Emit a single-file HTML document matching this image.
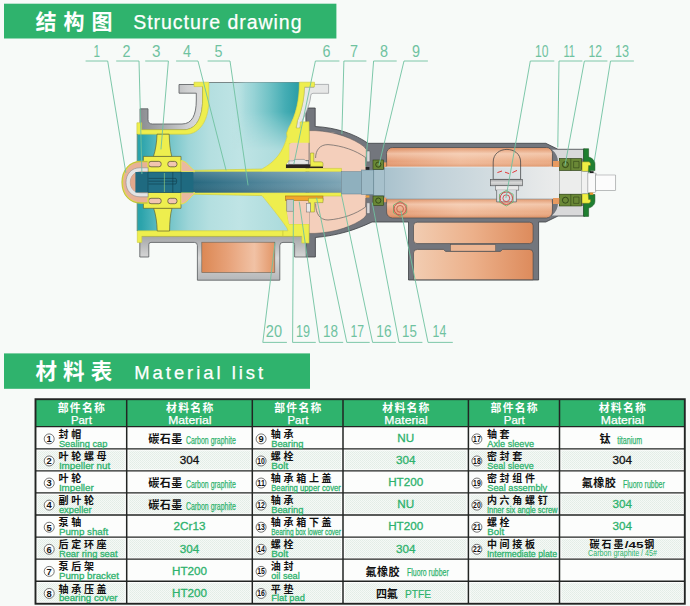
<!DOCTYPE html>
<html lang="zh"><head><meta charset="utf-8"><title>Structure drawing / Material list</title>
<style>
html,body{margin:0;padding:0;background:#f7faf8;}
body{width:690px;height:606px;position:relative;overflow:hidden;font-family:"Liberation Sans",sans-serif;}
svg.main{position:absolute;left:0;top:0;}
svg text{font-family:"Liberation Sans","Noto Sans CJK SC",sans-serif;}
.t{position:absolute;white-space:nowrap;line-height:1.15;}
.c{display:inline-block;transform:scaleX(0.7);transform-origin:left center;}
.c2{display:inline-block;transform:scaleX(0.78);transform-origin:center center;letter-spacing:-0.2px;}
</style></head><body>
<svg class="main" width="690" height="606" viewBox="0 0 690 606" role="img" aria-label="结构图 Structure drawing; 材料表 Material list">
<defs>
<pattern id="dots" width="2" height="2" patternUnits="userSpaceOnUse"><rect width="2" height="2" fill="#f5f9f6"/><rect x="0" y="0" width="1" height="1" fill="#e2ede6"/><rect x="1" y="1" width="1" height="1" fill="#e6efe9"/></pattern>
</defs>
<defs>
  <linearGradient id="cy" x1="141" y1="0" x2="300" y2="0" gradientUnits="userSpaceOnUse">
    <stop offset="0" stop-color="#2ba3ab"/>
    <stop offset="0.1" stop-color="#58b9bf"/>
    <stop offset="0.3" stop-color="#9dd5d8"/>
    <stop offset="0.43" stop-color="#b4dfe0"/>
    <stop offset="0.62" stop-color="#bfe4e5"/>
    <stop offset="0.81" stop-color="#b2dedf"/>
    <stop offset="1" stop-color="#a4d8da"/>
  </linearGradient>
  <linearGradient id="cyn" x1="232" y1="0" x2="300" y2="0" gradientUnits="userSpaceOnUse">
    <stop offset="0" stop-color="#b9e2e2" stop-opacity="0"/>
    <stop offset="0.2" stop-color="#a5d9db" stop-opacity="0.9"/>
    <stop offset="0.34" stop-color="#93d1d4"/>
    <stop offset="0.56" stop-color="#6ec1c5"/>
    <stop offset="0.78" stop-color="#45adb4"/>
    <stop offset="1" stop-color="#289ca5"/>
  </linearGradient>
  <linearGradient id="cym" x1="0" y1="112" x2="0" y2="150" gradientUnits="userSpaceOnUse">
    <stop offset="0" stop-color="#fff"/>
    <stop offset="1" stop-color="#000"/>
  </linearGradient>
  <mask id="mneck" maskUnits="userSpaceOnUse" x="200" y="80" width="110" height="100"><rect x="200" y="80" width="110" height="100" fill="url(#cym)"/></mask>
  <linearGradient id="sh" x1="135" y1="0" x2="345" y2="0" gradientUnits="userSpaceOnUse">
    <stop offset="0" stop-color="#1d6a80"/>
    <stop offset="0.25" stop-color="#24667d"/>
    <stop offset="0.6" stop-color="#4f8499"/>
    <stop offset="1" stop-color="#7fa6b6"/>
  </linearGradient>
  <linearGradient id="shv" x1="0" y1="171" x2="0" y2="194" gradientUnits="userSpaceOnUse">
    <stop offset="0" stop-color="#ffffff" stop-opacity="0.18"/>
    <stop offset="0.5" stop-color="#ffffff" stop-opacity="0"/>
    <stop offset="1" stop-color="#000000" stop-opacity="0.15"/>
  </linearGradient>
  <linearGradient id="st2" x1="384" y1="0" x2="560" y2="0" gradientUnits="userSpaceOnUse">
    <stop offset="0" stop-color="#a9c2cd"/>
    <stop offset="0.25" stop-color="#bfd0d8"/>
    <stop offset="0.6" stop-color="#d2dce0"/>
    <stop offset="0.85" stop-color="#e4e7e8"/>
    <stop offset="1" stop-color="#ebecec"/>
  </linearGradient>
  <linearGradient id="gr" x1="140" y1="0" x2="203" y2="0" gradientUnits="userSpaceOnUse">
    <stop offset="0" stop-color="#8b8d91"/>
    <stop offset="0.35" stop-color="#a7a9ac"/>
    <stop offset="0.75" stop-color="#cfd0d1"/>
    <stop offset="1" stop-color="#dcdcdc"/>
  </linearGradient>
  <linearGradient id="grh" x1="0" y1="0" x2="0" y2="1">
    <stop offset="0" stop-color="#a4a6a8"/>
    <stop offset="0.5" stop-color="#d8d8d8"/>
    <stop offset="1" stop-color="#b5b7b9"/>
  </linearGradient>
  <linearGradient id="cu1" x1="386" y1="0" x2="552" y2="0" gradientUnits="userSpaceOnUse">
    <stop offset="0" stop-color="#e3946a"/>
    <stop offset="0.45" stop-color="#efb896"/>
    <stop offset="1" stop-color="#e9a57c"/>
  </linearGradient>
  <linearGradient id="cuv" x1="0" y1="0" x2="0" y2="1">
    <stop offset="0" stop-color="#d9875a" stop-opacity="0.55"/>
    <stop offset="0.3" stop-color="#fbe3d2" stop-opacity="0.55"/>
    <stop offset="0.7" stop-color="#fbe3d2" stop-opacity="0.1"/>
    <stop offset="1" stop-color="#cf7a4a" stop-opacity="0.5"/>
  </linearGradient>
  <linearGradient id="cu2" x1="0" y1="0" x2="1" y2="0">
    <stop offset="0" stop-color="#f2cdb2"/>
    <stop offset="0.5" stop-color="#ecb08a"/>
    <stop offset="1" stop-color="#dd8b5c"/>
  </linearGradient>
  <linearGradient id="cu3" x1="0" y1="0" x2="1" y2="0">
    <stop offset="0" stop-color="#dc8854"/>
    <stop offset="0.35" stop-color="#e7a178"/>
    <stop offset="0.72" stop-color="#f1c2a5"/>
    <stop offset="1" stop-color="#e29566"/>
  </linearGradient>
</defs>

<!-- ===== cyan interior ===== -->
<path d="M208.7,82.5 L299.5,82.5 C299.5,100 296,115 288.6,128 L287,137 C283,152 275,162 262,169 L262,195.6 C268,203 278,215 287,228 L288,231 L137.3,231 L137.3,134 L186,134 C200,134 208.7,120 208.7,100 Z" fill="url(#cy)"/>

<line x1="208.8" y1="82.5" x2="299.4" y2="82.5" stroke="#4f5a5c" stroke-width="0.7"/>
<path d="M232,82.5 L299.5,82.5 C299.5,100 296,115 288.6,128 L287,137 C283,152 275,162 262,169 L232,169 Z" fill="url(#cyn)" mask="url(#mneck)"/>
<!-- ===== bracket dark silhouette ===== -->
<path d="M305.8,108 L315.2,108 L315.2,126.5 C336,127.5 355,134 368,143.3 L545.8,143.3 L558,149.3 L585,149.3 L585,216 L558,216 L545.8,222 L538.6,222 L538.6,280 L408.5,280 L408.5,222 L372,222 C355,230 338,235.5 315.4,237.5 L315.4,257 L306,257 L306,130 Z" fill="#73767d" stroke="#3c3f43" stroke-width="0.8"/>
<!-- pink interior -->
<path d="M309,130.6 L315,130.6 C336,131.6 353.5,138.6 364,146.6 L366.3,149.5 L366.3,215 L364,218 C353.5,226 336,232.4 315,233.4 L309,233.4 Z" fill="#f4cfbb" stroke="#4a4c50" stroke-width="0.5"/>

<!-- copper bearing chamber -->
<rect x="386.6" y="147.5" width="165.8" height="70.4" rx="6" fill="url(#cu1)" stroke="#4a4d50" stroke-width="0.8"/>
<rect x="387" y="148" width="165" height="19" rx="5.5" fill="url(#cuv)"/>
<rect x="386.8" y="198.6" width="165.2" height="18.8" rx="5.5" fill="url(#cuv)"/>
<!-- light grey end part -->
<path d="M552,149.8 L583,149.8 L583,158.6 L559,158.6 L559,206 L583,206 L583,215.6 L552,215.6 C556,212 558,208 558,203 L558,162 C558,157 556,153 552,149.8 Z" fill="#d9d9da"/>

<!-- base copper blocks -->
<rect x="413.5" y="222.2" width="119.6" height="21.4" rx="3.6" fill="url(#cu2)" stroke="#4a4d50" stroke-width="0.7"/>
<rect x="450.4" y="244.6" width="45.3" height="6.6" fill="#ecb592" stroke="#4a4d50" stroke-width="0.5"/>
<path d="M413.5,253 Q413.5,249.4 417.5,249.4 L443.5,249.4 L445.5,251.4 L500.5,251.4 L502.5,249.4 L529.1,249.4 Q533.1,249.4 533.1,253 L533.1,279.8 L413.5,279.8 Z" fill="url(#cu2)" stroke="#4a4d50" stroke-width="0.7"/>

<!-- ===== volute grey outer casing ===== -->
<path d="M140,108.8 L148,108.8 L148,119.5 C148,122.5 149.5,124 152.5,124 L182,124 C192,124 196.3,115 196.3,100 L196.3,93.2 L179,93.2 L179,84.5 L202.6,84.5 L202.6,100 C202.6,118 196,129.8 184,129.8 L140,129.8 Z" fill="url(#gr)" stroke="#55595c" stroke-width="0.8"/>
<!-- bottom grey casing + foot + copper base -->
<path d="M139.8,236 L306.2,236 L306.2,257 L294.6,257 L294.6,244.6 Q294.6,242.4 292.4,242.4 L283,242.4 Q279.8,242.4 279.8,245.5 L279.8,280.2 L197.4,280.2 L197.4,245.5 Q197.4,242.4 194.4,242.4 L151,242.4 Q148.8,242.4 148.8,244.6 L148.8,257 L139.8,257 Z" fill="url(#grh)" stroke="#55595c" stroke-width="0.8"/>
<rect x="201.8" y="242.2" width="73" height="30.4" fill="url(#cu3)" stroke="#6a6256" stroke-width="0.6"/>
<!-- right neck light grey -->
<path d="M304.3,87.4 L313.7,87.4 L313.7,84.4 L328.6,84.4 L328.6,93.3 L313,93.3 Q310.7,93.3 310.7,96 C310,104 306.5,112 302.3,120.6 L299.9,128 Q298,130.8 296.2,128.5 L297.4,120.6 C301,112 304,100 304.3,87.4 Z" fill="#e6e7e7" stroke="#85888b" stroke-width="0.6"/>

<!-- ===== yellow liner ===== -->
<g fill="#eeee4e" stroke="#c9c93a" stroke-width="0.6">
<!-- left/top liner -->
<path d="M136.9,122.8 L141.6,122.8 L141.6,129.8 L184,129.8 C196,129.8 202.6,118 202.6,100 L202.6,86.6 L194,86.6 L194,82.2 L208.8,82.2 L208.8,100 C208.8,120 200,134.2 186,134.2 L136.9,134.2 Z"/>
<path d="M137.3,230.8 L283,230.8 L283,236.3 L141.8,236.3 L141.8,242.4 L137.3,242.4 Z"/>
<!-- right neck liner + rear plate -->
<path d="M299.3,82.2 L314.5,82.2 L314.5,86.8 L304.6,86.8 L304.3,90 C304,100 301,112 297.4,120.6 L296,128 L300.2,128 L300.2,122 L309,121.8 L309.2,137 L309.2,143.5 L289.4,143.5 L289.4,160 L286,164.4 L286,168.4 L341.5,168.4 L341.5,171.8 L192,171.8 L192,170.4 L262,169 C275,162 283,152 287,137 L286.6,133 L288.6,128 C296,115 299.3,100 299.3,82.2 Z"/>
<!-- lower rear plate -->
<path d="M192,192.6 L341.5,192.6 L341.5,196 L285.4,196 L286.5,200 L287,212 L289,224 L301.8,224 L309,224 L309,243 L301.8,243 L301.8,236.3 L283,236.3 L283,230.8 L288,230.8 L287,228 C278,215 268,203 262,195.6 L192,194.2 Z"/>
</g>

<line x1="137.2" y1="134" x2="137.2" y2="231" stroke="#4f7f6a" stroke-width="0.8"/>
<!-- ===== shaft ===== -->
<rect x="135.4" y="171.8" width="206.2" height="20.8" fill="url(#sh)"/>
<rect x="135.4" y="171.8" width="206.2" height="20.8" fill="url(#shv)"/>
<!-- stepped light shaft -->
<rect x="341.5" y="171.6" width="20" height="22.4" fill="#8fb0be" stroke="#5f7f8e" stroke-width="0.5"/>
<rect x="361.5" y="170" width="12.4" height="24.6" fill="#9dbac6" stroke="#5f7f8e" stroke-width="0.5"/>
<rect x="373.8" y="169.4" width="11" height="26.4" fill="#a7c1cc" stroke="#5f7f8e" stroke-width="0.5"/>
<rect x="384.6" y="167" width="175" height="32" fill="url(#st2)"/>
<line x1="384.6" y1="167" x2="559" y2="167" stroke="#e9eef0" stroke-width="0.8"/>
<line x1="384.6" y1="199" x2="559" y2="199" stroke="#7c8b92" stroke-width="0.6"/>
<rect x="559.4" y="170.4" width="22.4" height="23.8" fill="#ecedec" stroke="#9a9d9e" stroke-width="0.5"/>
<rect x="581.5" y="169" width="6.5" height="26.6" fill="#f3f3f2"/>
<rect x="587.8" y="173.6" width="8.4" height="17.6" fill="#fbfbfb" stroke="#b4b6b6" stroke-width="0.5"/>
<rect x="596" y="175.4" width="19.8" height="15" fill="#fcfcfc" stroke="#b4b6b6" stroke-width="0.5"/>

<!-- ===== impeller blades + hub ===== -->
<g fill="#eeee4e" stroke="#5c5c2c" stroke-width="0.65">
<path d="M157,134.2 L169.2,134.2 C169.4,142 170,150 171.8,156.6 L153.4,156.6 C155.6,150 156.8,142 157,134.2 Z"/>
<path d="M157.2,231 L169.6,231 C169.6,222.6 170.2,214.6 172,208.1 L153.6,208.1 C155.8,214.6 157,222.6 157.2,231 Z"/>
<path d="M143.4,156.4 L181,156.4 L181,208.3 L143.4,208.3 L143.4,202.5 L148,202.5 L148,162 L143.4,162 Z"/>
</g>
<g fill="#f2c5b0" stroke="#4a4630" stroke-width="0.7">
<rect x="148.6" y="161.4" width="12.6" height="5.4" rx="2.4"/>
<rect x="167.8" y="161.4" width="9.2" height="5.4" rx="2.4"/>
<rect x="148.6" y="198.3" width="12.6" height="5.4" rx="2.4"/>
<rect x="167.8" y="198.3" width="9.2" height="5.4" rx="2.4"/>
</g>
<!-- pink bulge right of hub -->
<path d="M181,160.6 C187,161 190,168 194.5,170.6 L194.5,171.8 L181,171.8 Z" fill="#eab9a0" stroke="#e4e44a" stroke-width="1"/>
<path d="M181,204 C187,203.6 190,196.6 194.5,194 L194.5,192.6 L181,192.6 Z" fill="#eab9a0" stroke="#e4e44a" stroke-width="1"/>
<!-- sealing cap -->
<path d="M148,161.6 L141,161.6 C130,161.6 122.4,170 122.4,182.3 C122.4,194.6 130,203 141,203 L148,203 Z" fill="#e8b196" stroke="#dede45" stroke-width="1.5"/>
<path d="M148,161.6 L141,161.6 C130,161.6 122.4,170 122.4,182.3 C122.4,194.6 130,203 141,203 L148,203" fill="none" stroke="#8d8d2c" stroke-width="0.4" transform="translate(-0.6,0)"/>
<path d="M148,167.8 L140,167.8 C131.5,167.8 126,174 126,182.3 C126,190.6 131.5,196.8 140,196.8 L148,196.8 L148,192.8 L141,192.8 C134,192.8 130.3,188 130.3,182.3 C130.3,176.6 134,171.8 141,171.8 L148,171.8 Z" fill="#e4e4e4" stroke="#7d7f82" stroke-width="0.5"/>
<path d="M148,171.8 L141,171.8 C134,171.8 130.3,176.6 130.3,182.3 C130.3,188 134,192.8 141,192.8 L148,192.8 Z" fill="#e2a88c"/>
<!-- shaft end inside cap and hub (redraw on top) -->
<rect x="135.4" y="172" width="58" height="20.5" fill="#1f6a80"/>
<rect x="148" y="172" width="33" height="20.5" fill="#226f86" stroke="#123c4a" stroke-width="0.5"/>
<g stroke="#0f3a48" stroke-width="0.6" fill="none">
<path d="M148.6,178.4 L176,178.4 Q177.6,181 176,184 L148.6,184"/>
<path d="M148.6,181.2 L176.4,181.2"/>
<line x1="172.8" y1="172" x2="172.8" y2="192.5"/>
</g>
<line x1="164.4" y1="173" x2="164.4" y2="192" stroke="#9fd67a" stroke-width="0.6"/>

<!-- ===== rear seal area ===== -->
<!-- pink pocket above shaft -->
<path d="M289.4,146 Q289.4,142.8 293,142.8 L309.2,142.8 L309.2,160 L289.4,160 Z" fill="#f3cdb9"/>
<line x1="309" y1="142.8" x2="309" y2="160" stroke="#5a5c5e" stroke-width="0.6"/>
<!-- seal ring top -->
<path d="M288.8,164.4 L288.8,160.8 L293,160.8 L295,159.4 L304,159.4 L306,160.8 L308.4,160.8 L308.4,164.4 Z" fill="#e6e6e6" stroke="#6d6f72" stroke-width="0.5"/>
<rect x="286" y="164.4" width="37" height="3.6" fill="#2a2320"/>
<path d="M310.5,153 L313.8,153 L313.8,161.8 L321,161.8 Q323,161.8 323,163.6 L323,166.4 L310.5,166.4 Z" fill="#eeee4e" stroke="#8d8d2c" stroke-width="0.5"/>
<!-- seal bottom -->
<path d="M286.5,200 L309,200 L309,224 L289,224 L287,212 Z" fill="#f3cdb9"/>
<rect x="285.4" y="196" width="37.6" height="4.6" fill="#f0a62c" stroke="#a06a10" stroke-width="0.5"/>
<rect x="286.8" y="199.6" width="6.6" height="11.6" fill="#c9c9c9" stroke="#6d6f72" stroke-width="0.5"/>
<path d="M308.5,198.2 L323,198.2 L323,202.6 L314.4,202.6 L314.4,212 L310.4,212 L310.4,202.6 L308.5,202.6 Z" fill="#eeee4e" stroke="#8d8d2c" stroke-width="0.5"/>
<rect x="306.6" y="203.4" width="3.8" height="8.6" fill="#e9e9e9" stroke="#6d6f72" stroke-width="0.5"/>
<!-- inner cavity outline in pink -->
<path d="M315.6,158 C315.6,150 320,144.6 328,144.6 C342,145.6 356,150.5 365.5,157.5 L365.8,166.5" fill="none" stroke="#5f5f5f" stroke-width="0.7"/>
<path d="M315.6,203.5 C315.6,214 320,220 328,220 C342,219 356,214 365.5,207 L365.8,198" fill="none" stroke="#5f5f5f" stroke-width="0.7"/>

<!-- ===== bearings ===== -->
<g fill="#6a8836" stroke="#2f4415" stroke-width="0.6">
<rect x="373" y="160" width="10.6" height="9.3"/>
<rect x="373" y="196" width="10.6" height="9.3"/>
<rect x="559.4" y="158.6" width="22" height="11.8"/>
<rect x="559.4" y="194.2" width="22" height="11.8"/>
</g>
<g fill="none" stroke="#1f3010" stroke-width="0.7">
<circle cx="378.3" cy="164.6" r="2.6"/><circle cx="378.3" cy="200.6" r="2.6"/>
<circle cx="565.4" cy="164.6" r="3"/><circle cx="565.4" cy="200.2" r="3"/><path d="M570.8,158.6 L570.8,170.4 M570.8,194.2 L570.8,206 M573.6,161.4 h5.4 v6.4 h-5.4 Z M573.6,197 h5.4 v6.4 h-5.4 Z" stroke-width="0.45"/>
</g>
<!-- small orange bits near bearings -->
<rect x="553" y="161" width="6.4" height="6" fill="#e89a60"/>
<rect x="553" y="198" width="6.4" height="6" fill="#e89a60"/>
<!-- bearing cover (7/8 area) white bits -->
<rect x="366.7" y="151" width="3.2" height="10.8" rx="0.8" fill="#d8d8da" stroke="#4d4f52" stroke-width="0.4"/>
<rect x="366.7" y="202.8" width="3.2" height="10.8" rx="0.8" fill="#d8d8da" stroke="#4d4f52" stroke-width="0.4"/>
<rect x="365.6" y="167" width="3.8" height="2.8" fill="#222"/>
<rect x="384" y="162.4" width="2.4" height="4.6" fill="#e89a60"/><rect x="384" y="197.6" width="2.4" height="4.6" fill="#e89a60"/>
<rect x="365.6" y="195.4" width="3.8" height="2.2" fill="#e8a040"/>

<!-- ===== end cap (dark green) ===== -->
<g fill="#1f7f30" stroke="#0e4a18" stroke-width="0.5">
<path d="M583.6,148.7 L588.6,148.7 L588.6,157 C592.4,158.2 594.9,160.5 594.9,164 L594.9,170.6 L590.6,170.6 L590.6,172.2 L583.6,172.2 Z"/>
<path d="M583.6,216.4 L588.6,216.4 L588.6,208.1 C592.4,206.9 594.9,204.6 594.9,201.1 L594.9,194.5 L590.6,194.5 L590.6,192.9 L583.6,192.9 Z"/>
</g>
<path d="M582,161.8 L589.2,161.8 L590.6,163.4 L590.6,165.6 L588.6,165.6 L588.2,171.4 L582,171.4 Z" fill="#f0ef44" stroke="#6d6d20" stroke-width="0.45"/>
<path d="M582,203.3 L589.2,203.3 L590.6,201.7 L590.6,199.5 L588.6,199.5 L588.2,193.7 L582,193.7 Z" fill="#f0ef44" stroke="#6d6d20" stroke-width="0.45"/>
<rect x="581.6" y="171.6" width="6.4" height="22" fill="#f1f1f0" stroke="#9a9d9e" stroke-width="0.4"/>
<rect x="587.9" y="173" width="7.7" height="19.6" fill="#fafafa" stroke="#8a8d8e" stroke-width="0.5"/>
<rect x="595.6" y="175" width="20" height="15.5" fill="#fcfcfc" stroke="#8a8d8e" stroke-width="0.5"/>
<rect x="590" y="171.2" width="3.6" height="1.8" fill="#222"/>
<rect x="589.6" y="192.6" width="3.6" height="2.2" fill="#e8952c"/>

<!-- ===== oiler (10) ===== -->
<path d="M493.2,179.4 L493.2,162 C493.2,145.2 520.6,145.2 520.6,162 L520.6,179.4 Z" fill="none" stroke="#3f4143" stroke-width="0.75"/>
<path d="M497.4,172.6 L502,171 M505,172.2 L509.2,173.6 M512.4,172.6 L517,170.4" stroke="#e03a3a" stroke-width="1" fill="none"/>
<rect x="490.4" y="179.4" width="31.9" height="6.4" fill="url(#grh)" stroke="#4b4d4f" stroke-width="0.6"/>
<rect x="495.3" y="185.8" width="23.5" height="4.3" fill="#e9e9e9" stroke="#4b4d4f" stroke-width="0.5"/>
<path d="M496.6,190.1 L496.6,201.9 L516.4,201.9 L516.4,190.1" fill="#d7dde0" stroke="#4b4d4f" stroke-width="0.6"/>
<path d="M506.3,190.4 l6.8,3.9 l0,7.8 l-6.8,3.9 l-6.8,-3.9 l0,-7.8 Z" fill="none" stroke="#5fb36a" stroke-width="0.8"/>
<circle cx="506.3" cy="198.2" r="6.2" fill="none" stroke="#d04848" stroke-width="1"/>
<circle cx="506.3" cy="198.2" r="3.4" fill="none" stroke="#d04848" stroke-width="0.9"/>
<!-- bolt 14 -->
<path d="M400.1,201.3 l6.6,3.8 l0,7.6 l-6.6,3.8 l-6.6,-3.8 l0,-7.6 Z" fill="none" stroke="#5fb36a" stroke-width="0.8"/>
<circle cx="400.1" cy="208.9" r="6.1" fill="none" stroke="#d04848" stroke-width="1"/>
<circle cx="400.1" cy="208.9" r="3.4" fill="none" stroke="#c0604a" stroke-width="0.9"/>

<g fill="none" stroke="#6fc2a0" stroke-width="0.9" stroke-linecap="round" stroke-linejoin="round"><path d="M86,61 L107.7,61 L125.8,172.4"/><path d="M116.6,61 L139,61 L141.9,173.7"/><path d="M145.6,61 L168.4,61 L161,149"/><path d="M176.5,61 L198,61 L226,170"/><path d="M208,61 L230,61 L248,185"/><path d="M339,61 L315.4,61 L293.9,163.8"/><path d="M366,61 L343.9,61 L341.9,133.6"/><path d="M396.3,61 L373.6,61 L365.6,166.2"/><path d="M427.5,61 L404,61 L379,165"/><path d="M553.9,61 L530.3,61 L506,197.5"/><path d="M582,61 L559,61 L557.8,147"/><path d="M607,61 L584.4,61 L565,165.5"/><path d="M633.5,61 L610.5,61 L594.3,161"/><path d="M286.5,342.4 L262.8,342.4 L275,243"/><path d="M315.4,342.4 L292.6,342.4 L293.5,200"/><path d="M342.8,342.4 L319.4,342.4 L299.3,202"/><path d="M369.3,342.4 L346.8,342.4 L316.6,198"/><path d="M395.5,342.4 L372.6,342.4 L341.4,194.5"/><path d="M422,342.4 L399,342.4 L372.3,203"/><path d="M452.4,342.4 L428,342.4 L401,211"/></g>
<g fill="#6fc2a0" stroke="none" font-size="15.6"><text x="93.5" y="56.5" textLength="6.5" lengthAdjust="spacingAndGlyphs">1</text><text x="122.5" y="56.5" textLength="8" lengthAdjust="spacingAndGlyphs">2</text><text x="152" y="56.5" textLength="8.5" lengthAdjust="spacingAndGlyphs">3</text><text x="183" y="56.5" textLength="8" lengthAdjust="spacingAndGlyphs">4</text><text x="214.5" y="56.5" textLength="8" lengthAdjust="spacingAndGlyphs">5</text><text x="322.5" y="56.5" textLength="8" lengthAdjust="spacingAndGlyphs">6</text><text x="350" y="56.5" textLength="8" lengthAdjust="spacingAndGlyphs">7</text><text x="380" y="56.5" textLength="8" lengthAdjust="spacingAndGlyphs">8</text><text x="412" y="56.5" textLength="8" lengthAdjust="spacingAndGlyphs">9</text><text x="535" y="56.5" textLength="13.5" lengthAdjust="spacingAndGlyphs">10</text><text x="563.5" y="56.5" textLength="11.5" lengthAdjust="spacingAndGlyphs">11</text><text x="588.5" y="56.5" textLength="13.5" lengthAdjust="spacingAndGlyphs">12</text><text x="615" y="56.5" textLength="14" lengthAdjust="spacingAndGlyphs">13</text></g>
<g fill="#6fc2a0" stroke="none" font-size="16.2"><text x="265.8" y="337.4" textLength="16.2" lengthAdjust="spacingAndGlyphs">20</text><text x="296" y="337.4" textLength="14" lengthAdjust="spacingAndGlyphs">19</text><text x="323" y="337.4" textLength="15" lengthAdjust="spacingAndGlyphs">18</text><text x="350.4" y="337.4" textLength="13.6" lengthAdjust="spacingAndGlyphs">17</text><text x="376.3" y="337.4" textLength="15.2" lengthAdjust="spacingAndGlyphs">16</text><text x="402" y="337.4" textLength="14.8" lengthAdjust="spacingAndGlyphs">15</text><text x="432.6" y="337.4" textLength="13.7" lengthAdjust="spacingAndGlyphs">14</text></g>
<rect x="4" y="3.7" width="332.4" height="34.8" fill="#2fb36d"/><text x="35.5 63.5 91.5" y="29.1" font-size="21" font-weight="bold" fill="#fff">结构图</text><rect x="4" y="353.4" width="306" height="35.4" fill="#2fb36d"/><text x="35.5 63.1 90.7" y="379.4" font-size="21.5" font-weight="bold" fill="#fff">材料表</text>
<rect x="35.5" y="399.2" width="649.3" height="27.5" fill="#2fb36d"/><rect x="35.5" y="426.7" width="649.3" height="176.64" fill="#fcfdfc"/><rect x="37.50" y="450.68" width="87.20" height="18.58" fill="url(#dots)"/><rect x="128.70" y="450.68" width="121.60" height="18.58" fill="url(#dots)"/><rect x="254.30" y="450.68" width="86.70" height="18.58" fill="url(#dots)"/><rect x="345.00" y="450.68" width="121.40" height="18.58" fill="url(#dots)"/><rect x="470.40" y="450.68" width="87.10" height="18.58" fill="url(#dots)"/><rect x="561.50" y="450.68" width="121.30" height="18.58" fill="url(#dots)"/><rect x="37.50" y="494.84" width="87.20" height="18.58" fill="url(#dots)"/><rect x="128.70" y="494.84" width="121.60" height="18.58" fill="url(#dots)"/><rect x="254.30" y="494.84" width="86.70" height="18.58" fill="url(#dots)"/><rect x="345.00" y="494.84" width="121.40" height="18.58" fill="url(#dots)"/><rect x="470.40" y="494.84" width="87.10" height="18.58" fill="url(#dots)"/><rect x="561.50" y="494.84" width="121.30" height="18.58" fill="url(#dots)"/><rect x="37.50" y="539.00" width="87.20" height="18.58" fill="url(#dots)"/><rect x="128.70" y="539.00" width="121.60" height="18.58" fill="url(#dots)"/><rect x="254.30" y="539.00" width="86.70" height="18.58" fill="url(#dots)"/><rect x="345.00" y="539.00" width="121.40" height="18.58" fill="url(#dots)"/><rect x="470.40" y="539.00" width="87.10" height="18.58" fill="url(#dots)"/><rect x="561.50" y="539.00" width="121.30" height="18.58" fill="url(#dots)"/><rect x="37.50" y="583.16" width="87.20" height="18.58" fill="url(#dots)"/><rect x="128.70" y="583.16" width="121.60" height="18.58" fill="url(#dots)"/><rect x="254.30" y="583.16" width="86.70" height="18.58" fill="url(#dots)"/><rect x="345.00" y="583.16" width="121.40" height="18.58" fill="url(#dots)"/><rect x="470.40" y="583.16" width="87.10" height="18.58" fill="url(#dots)"/><rect x="561.50" y="583.16" width="121.30" height="18.58" fill="url(#dots)"/><line x1="35.5" y1="426.70" x2="684.8" y2="426.70" stroke="#222523" stroke-width="1.3"/><line x1="35.5" y1="448.78" x2="684.8" y2="448.78" stroke="#222523" stroke-width="1.3"/><line x1="35.5" y1="470.86" x2="684.8" y2="470.86" stroke="#222523" stroke-width="1.3"/><line x1="35.5" y1="492.94" x2="684.8" y2="492.94" stroke="#222523" stroke-width="1.3"/><line x1="35.5" y1="515.02" x2="684.8" y2="515.02" stroke="#222523" stroke-width="1.3"/><line x1="35.5" y1="537.10" x2="684.8" y2="537.10" stroke="#222523" stroke-width="1.3"/><line x1="35.5" y1="559.18" x2="684.8" y2="559.18" stroke="#222523" stroke-width="1.3"/><line x1="35.5" y1="581.26" x2="684.8" y2="581.26" stroke="#222523" stroke-width="1.3"/><line x1="126.7" y1="399.2" x2="126.7" y2="603.7399999999999" stroke="#222523" stroke-width="1.5"/><line x1="252.3" y1="399.2" x2="252.3" y2="603.7399999999999" stroke="#222523" stroke-width="1.5"/><line x1="343" y1="399.2" x2="343" y2="603.7399999999999" stroke="#222523" stroke-width="1.5"/><line x1="468.4" y1="399.2" x2="468.4" y2="603.7399999999999" stroke="#222523" stroke-width="1.5"/><line x1="559.5" y1="399.2" x2="559.5" y2="603.7399999999999" stroke="#222523" stroke-width="1.5"/><rect x="35.5" y="399.2" width="649.3" height="204.54" fill="none" stroke="#222523" stroke-width="1.9"/><text x="57.71 69.81 81.91 94.01" y="412.4" font-size="10.8" font-weight="bold" fill="#fff">部件名称</text><text x="81.40" y="424.30" font-size="10.8" fill="#fff" text-anchor="middle" textLength="20.9" lengthAdjust="spacingAndGlyphs" stroke="#fff" stroke-width="0.25">Part</text><text x="166.11 178.21 190.31 202.41" y="412.4" font-size="10.8" font-weight="bold" fill="#fff">材料名称</text><text x="189.80" y="424.30" font-size="10.8" fill="#fff" text-anchor="middle" textLength="43.3" lengthAdjust="spacingAndGlyphs" stroke="#fff" stroke-width="0.25">Material</text><text x="274.26 286.36 298.46 310.56" y="412.4" font-size="10.8" font-weight="bold" fill="#fff">部件名称</text><text x="297.95" y="424.30" font-size="10.8" fill="#fff" text-anchor="middle" textLength="20.9" lengthAdjust="spacingAndGlyphs" stroke="#fff" stroke-width="0.25">Part</text><text x="382.31 394.41 406.51 418.61" y="412.4" font-size="10.8" font-weight="bold" fill="#fff">材料名称</text><text x="406.00" y="424.30" font-size="10.8" fill="#fff" text-anchor="middle" textLength="43.3" lengthAdjust="spacingAndGlyphs" stroke="#fff" stroke-width="0.25">Material</text><text x="490.56 502.66 514.76 526.86" y="412.4" font-size="10.8" font-weight="bold" fill="#fff">部件名称</text><text x="514.25" y="424.30" font-size="10.8" fill="#fff" text-anchor="middle" textLength="20.9" lengthAdjust="spacingAndGlyphs" stroke="#fff" stroke-width="0.25">Part</text><text x="598.76 610.86 622.96 635.06" y="412.4" font-size="10.8" font-weight="bold" fill="#fff">材料名称</text><text x="622.45" y="424.30" font-size="10.8" fill="#fff" text-anchor="middle" textLength="43.3" lengthAdjust="spacingAndGlyphs" stroke="#fff" stroke-width="0.25">Material</text><circle cx="49.2" cy="438.90" r="5.0" fill="#fdfdfd" stroke="#4a4a4a" stroke-width="0.75"/><text x="49.20" y="442.20" font-size="9.4" fill="#111" text-anchor="middle" font-weight="bold">1</text><text x="58.52 71.22" y="437.95" font-size="10" font-weight="bold" fill="#111">封帽</text><text x="58.90" y="446.80" font-size="9.5" fill="#2db26c" textLength="48.5" lengthAdjust="spacingAndGlyphs" stroke="#2db26c" stroke-width="0.3">Sealing cap</text><circle cx="49.2" cy="460.98" r="5.0" fill="#fdfdfd" stroke="#4a4a4a" stroke-width="0.75"/><text x="49.20" y="464.28" font-size="9.4" fill="#111" text-anchor="middle" font-weight="bold">2</text><text x="58.52 71.22 83.92 96.62" y="460.03" font-size="10" font-weight="bold" fill="#111">叶轮螺母</text><text x="58.90" y="468.88" font-size="9.5" fill="#2db26c" textLength="51.4" lengthAdjust="spacingAndGlyphs" stroke="#2db26c" stroke-width="0.3">Impeller nut</text><circle cx="49.2" cy="483.06" r="5.0" fill="#fdfdfd" stroke="#4a4a4a" stroke-width="0.75"/><text x="49.20" y="486.36" font-size="9.4" fill="#111" text-anchor="middle" font-weight="bold">3</text><text x="58.52 71.22" y="482.11" font-size="10" font-weight="bold" fill="#111">叶轮</text><text x="58.90" y="490.96" font-size="9.5" fill="#2db26c" textLength="34.8" lengthAdjust="spacingAndGlyphs" stroke="#2db26c" stroke-width="0.3">Impeller</text><circle cx="49.2" cy="505.14" r="5.0" fill="#fdfdfd" stroke="#4a4a4a" stroke-width="0.75"/><text x="49.20" y="508.44" font-size="9.4" fill="#111" text-anchor="middle" font-weight="bold">4</text><text x="58.52 71.22 83.92" y="504.19" font-size="10" font-weight="bold" fill="#111">副叶轮</text><text x="58.90" y="513.04" font-size="9.5" fill="#2db26c" textLength="32.6" lengthAdjust="spacingAndGlyphs" stroke="#2db26c" stroke-width="0.3">expeller</text><circle cx="49.2" cy="527.22" r="5.0" fill="#fdfdfd" stroke="#4a4a4a" stroke-width="0.75"/><text x="49.20" y="530.52" font-size="9.4" fill="#111" text-anchor="middle" font-weight="bold">5</text><text x="58.52 71.22" y="526.27" font-size="10" font-weight="bold" fill="#111">泵轴</text><text x="58.90" y="535.12" font-size="9.5" fill="#2db26c" textLength="49.3" lengthAdjust="spacingAndGlyphs" stroke="#2db26c" stroke-width="0.3">Pump shaft</text><circle cx="49.2" cy="549.30" r="5.0" fill="#fdfdfd" stroke="#4a4a4a" stroke-width="0.75"/><text x="49.20" y="552.60" font-size="9.4" fill="#111" text-anchor="middle" font-weight="bold">6</text><text x="58.52 71.22 83.92 96.62" y="548.35" font-size="10" font-weight="bold" fill="#111">后定环座</text><text x="58.90" y="557.20" font-size="9.5" fill="#2db26c" textLength="58.7" lengthAdjust="spacingAndGlyphs" stroke="#2db26c" stroke-width="0.3">Rear ring seat</text><circle cx="49.2" cy="571.38" r="5.0" fill="#fdfdfd" stroke="#4a4a4a" stroke-width="0.75"/><text x="49.20" y="574.68" font-size="9.4" fill="#111" text-anchor="middle" font-weight="bold">7</text><text x="58.52 71.22 83.92" y="570.43" font-size="10" font-weight="bold" fill="#111">泵后架</text><text x="58.90" y="579.28" font-size="9.5" fill="#2db26c" textLength="60.1" lengthAdjust="spacingAndGlyphs" stroke="#2db26c" stroke-width="0.3">Pump bracket</text><circle cx="49.2" cy="593.46" r="5.0" fill="#fdfdfd" stroke="#4a4a4a" stroke-width="0.75"/><text x="49.20" y="596.76" font-size="9.4" fill="#111" text-anchor="middle" font-weight="bold">8</text><text x="58.52 71.22 83.92 96.62" y="592.51" font-size="10" font-weight="bold" fill="#111">轴承压盖</text><text x="58.90" y="601.36" font-size="9.5" fill="#2db26c" textLength="58.7" lengthAdjust="spacingAndGlyphs" stroke="#2db26c" stroke-width="0.3">bearing cover</text><circle cx="261.1" cy="438.90" r="5.0" fill="#fdfdfd" stroke="#4a4a4a" stroke-width="0.75"/><text x="261.10" y="442.20" font-size="9.4" fill="#111" text-anchor="middle" font-weight="bold">9</text><text x="270.82 283.52" y="437.95" font-size="10" font-weight="bold" fill="#111">轴承</text><text x="271.20" y="446.80" font-size="9.5" fill="#2db26c" textLength="32.2" lengthAdjust="spacingAndGlyphs" stroke="#2db26c" stroke-width="0.3">Bearing</text><circle cx="261.1" cy="460.98" r="5.0" fill="#fdfdfd" stroke="#4a4a4a" stroke-width="0.75"/><text x="261.10" y="463.88" font-size="8.2" fill="#111" text-anchor="middle" textLength="7.6" lengthAdjust="spacingAndGlyphs" font-weight="bold">10</text><text x="270.82 283.52" y="460.03" font-size="10" font-weight="bold" fill="#111">螺栓</text><text x="271.20" y="468.88" font-size="9.5" fill="#2db26c" textLength="17.1" lengthAdjust="spacingAndGlyphs" stroke="#2db26c" stroke-width="0.3">Bolt</text><circle cx="261.1" cy="483.06" r="5.0" fill="#fdfdfd" stroke="#4a4a4a" stroke-width="0.75"/><text x="261.10" y="485.96" font-size="8.2" fill="#111" text-anchor="middle" textLength="7.6" lengthAdjust="spacingAndGlyphs" font-weight="bold">11</text><text x="270.82 283.52 296.22 308.92 321.62" y="482.11" font-size="10" font-weight="bold" fill="#111">轴承箱上盖</text><text x="271.20" y="490.96" font-size="9.5" fill="#2db26c" textLength="69.7" lengthAdjust="spacingAndGlyphs" stroke="#2db26c" stroke-width="0.3">Bearing upper cover</text><circle cx="261.1" cy="505.14" r="5.0" fill="#fdfdfd" stroke="#4a4a4a" stroke-width="0.75"/><text x="261.10" y="508.04" font-size="8.2" fill="#111" text-anchor="middle" textLength="7.6" lengthAdjust="spacingAndGlyphs" font-weight="bold">12</text><text x="270.82 283.52" y="504.19" font-size="10" font-weight="bold" fill="#111">轴承</text><text x="271.20" y="513.04" font-size="9.5" fill="#2db26c" textLength="32.2" lengthAdjust="spacingAndGlyphs" stroke="#2db26c" stroke-width="0.3">Bearing</text><circle cx="261.1" cy="527.22" r="5.0" fill="#fdfdfd" stroke="#4a4a4a" stroke-width="0.75"/><text x="261.10" y="530.12" font-size="8.2" fill="#111" text-anchor="middle" textLength="7.6" lengthAdjust="spacingAndGlyphs" font-weight="bold">13</text><text x="270.82 283.52 296.22 308.92 321.62" y="526.27" font-size="10" font-weight="bold" fill="#111">轴承箱下盖</text><text x="271.20" y="535.12" font-size="9.5" fill="#2db26c" textLength="69.7" lengthAdjust="spacingAndGlyphs" stroke="#2db26c" stroke-width="0.3">Bearing box lower cover</text><circle cx="261.1" cy="549.30" r="5.0" fill="#fdfdfd" stroke="#4a4a4a" stroke-width="0.75"/><text x="261.10" y="552.20" font-size="8.2" fill="#111" text-anchor="middle" textLength="7.6" lengthAdjust="spacingAndGlyphs" font-weight="bold">14</text><text x="270.82 283.52" y="548.35" font-size="10" font-weight="bold" fill="#111">螺栓</text><text x="271.20" y="557.20" font-size="9.5" fill="#2db26c" textLength="17.1" lengthAdjust="spacingAndGlyphs" stroke="#2db26c" stroke-width="0.3">Bolt</text><circle cx="261.1" cy="571.38" r="5.0" fill="#fdfdfd" stroke="#4a4a4a" stroke-width="0.75"/><text x="261.10" y="574.28" font-size="8.2" fill="#111" text-anchor="middle" textLength="7.6" lengthAdjust="spacingAndGlyphs" font-weight="bold">15</text><text x="270.82 283.52" y="570.43" font-size="10" font-weight="bold" fill="#111">油封</text><text x="271.20" y="579.28" font-size="9.5" fill="#2db26c" textLength="28.5" lengthAdjust="spacingAndGlyphs" stroke="#2db26c" stroke-width="0.3">oil seal</text><circle cx="261.1" cy="593.46" r="5.0" fill="#fdfdfd" stroke="#4a4a4a" stroke-width="0.75"/><text x="261.10" y="596.36" font-size="8.2" fill="#111" text-anchor="middle" textLength="7.6" lengthAdjust="spacingAndGlyphs" font-weight="bold">16</text><text x="270.82 283.52" y="592.51" font-size="10" font-weight="bold" fill="#111">平垫</text><text x="271.20" y="601.36" font-size="9.5" fill="#2db26c" textLength="33.7" lengthAdjust="spacingAndGlyphs" stroke="#2db26c" stroke-width="0.3">Flat pad</text><circle cx="476.9" cy="438.90" r="5.0" fill="#fdfdfd" stroke="#4a4a4a" stroke-width="0.75"/><text x="476.90" y="441.80" font-size="8.2" fill="#111" text-anchor="middle" textLength="7.6" lengthAdjust="spacingAndGlyphs" font-weight="bold">17</text><text x="486.92 499.62" y="437.95" font-size="10" font-weight="bold" fill="#111">轴套</text><text x="487.30" y="446.80" font-size="9.5" fill="#2db26c" textLength="46.8" lengthAdjust="spacingAndGlyphs" stroke="#2db26c" stroke-width="0.3">Axle sleeve</text><circle cx="476.9" cy="460.98" r="5.0" fill="#fdfdfd" stroke="#4a4a4a" stroke-width="0.75"/><text x="476.90" y="463.88" font-size="8.2" fill="#111" text-anchor="middle" textLength="7.6" lengthAdjust="spacingAndGlyphs" font-weight="bold">18</text><text x="486.92 499.62 512.32" y="460.03" font-size="10" font-weight="bold" fill="#111">密封套</text><text x="487.30" y="468.88" font-size="9.5" fill="#2db26c" textLength="46.4" lengthAdjust="spacingAndGlyphs" stroke="#2db26c" stroke-width="0.3">Seal sleeve</text><circle cx="476.9" cy="483.06" r="5.0" fill="#fdfdfd" stroke="#4a4a4a" stroke-width="0.75"/><text x="476.90" y="485.96" font-size="8.2" fill="#111" text-anchor="middle" textLength="7.6" lengthAdjust="spacingAndGlyphs" font-weight="bold">19</text><text x="486.92 499.62 512.32 525.02" y="482.11" font-size="10" font-weight="bold" fill="#111">密封组件</text><text x="487.30" y="490.96" font-size="9.5" fill="#2db26c" textLength="59.9" lengthAdjust="spacingAndGlyphs" stroke="#2db26c" stroke-width="0.3">Seal assembly</text><circle cx="476.9" cy="505.14" r="5.0" fill="#fdfdfd" stroke="#4a4a4a" stroke-width="0.75"/><text x="476.90" y="508.04" font-size="8.2" fill="#111" text-anchor="middle" textLength="7.6" lengthAdjust="spacingAndGlyphs" font-weight="bold">20</text><text x="486.92 499.62 512.32 525.02 537.72" y="504.19" font-size="10" font-weight="bold" fill="#111">内六角螺钉</text><text x="486.90" y="513.04" font-size="9.5" fill="#2db26c" textLength="70.6" lengthAdjust="spacingAndGlyphs" stroke="#2db26c" stroke-width="0.3">Inner six angle screw</text><circle cx="476.9" cy="527.22" r="5.0" fill="#fdfdfd" stroke="#4a4a4a" stroke-width="0.75"/><text x="476.90" y="530.12" font-size="8.2" fill="#111" text-anchor="middle" textLength="7.6" lengthAdjust="spacingAndGlyphs" font-weight="bold">21</text><text x="486.92 499.62" y="526.27" font-size="10" font-weight="bold" fill="#111">螺栓</text><text x="487.30" y="535.12" font-size="9.5" fill="#2db26c" textLength="16.8" lengthAdjust="spacingAndGlyphs" stroke="#2db26c" stroke-width="0.3">Bolt</text><circle cx="476.9" cy="549.30" r="5.0" fill="#fdfdfd" stroke="#4a4a4a" stroke-width="0.75"/><text x="476.90" y="552.20" font-size="8.2" fill="#111" text-anchor="middle" textLength="7.6" lengthAdjust="spacingAndGlyphs" font-weight="bold">22</text><text x="486.92 499.62 512.32 525.02" y="548.35" font-size="10" font-weight="bold" fill="#111">中间接板</text><text x="486.90" y="557.20" font-size="9.5" fill="#2db26c" textLength="70.3" lengthAdjust="spacingAndGlyphs" stroke="#2db26c" stroke-width="0.3">Intermediate plate</text><text x="148.2 159.7 171.2" y="443.1" font-size="11" font-weight="bold" fill="#111">碳石墨</text><text x="185.90" y="443.50" font-size="11.3" fill="#2db26c" textLength="49.9" lengthAdjust="spacingAndGlyphs" stroke="#2db26c" stroke-width="0.25">Carbon graphite</text><text x="189.50" y="464.18" font-size="11.7" fill="#111" text-anchor="middle" stroke="#111" stroke-width="0.3">304</text><text x="148.2 159.7 171.2" y="487.3" font-size="11" font-weight="bold" fill="#111">碳石墨</text><text x="185.90" y="487.66" font-size="11.3" fill="#2db26c" textLength="49.9" lengthAdjust="spacingAndGlyphs" stroke="#2db26c" stroke-width="0.25">Carbon graphite</text><text x="148.2 159.7 171.2" y="509.4" font-size="11" font-weight="bold" fill="#111">碳石墨</text><text x="185.90" y="509.74" font-size="11.3" fill="#2db26c" textLength="49.9" lengthAdjust="spacingAndGlyphs" stroke="#2db26c" stroke-width="0.25">Carbon graphite</text><text x="189.50" y="530.42" font-size="11.7" fill="#2db26c" text-anchor="middle" stroke="#2db26c" stroke-width="0.3">2Cr13</text><text x="189.50" y="552.50" font-size="11.7" fill="#2db26c" text-anchor="middle" stroke="#2db26c" stroke-width="0.3">304</text><text x="189.50" y="574.58" font-size="11.7" fill="#2db26c" text-anchor="middle" stroke="#2db26c" stroke-width="0.3">HT200</text><text x="189.50" y="596.66" font-size="11.7" fill="#2db26c" text-anchor="middle" stroke="#2db26c" stroke-width="0.3">HT200</text><text x="405.70" y="442.10" font-size="11.7" fill="#2db26c" text-anchor="middle" stroke="#2db26c" stroke-width="0.3">NU</text><text x="405.70" y="464.18" font-size="11.7" fill="#2db26c" text-anchor="middle" stroke="#2db26c" stroke-width="0.3">304</text><text x="405.70" y="486.26" font-size="11.7" fill="#2db26c" text-anchor="middle" stroke="#2db26c" stroke-width="0.3">HT200</text><text x="405.70" y="508.34" font-size="11.7" fill="#2db26c" text-anchor="middle" stroke="#2db26c" stroke-width="0.3">NU</text><text x="405.70" y="530.42" font-size="11.7" fill="#2db26c" text-anchor="middle" stroke="#2db26c" stroke-width="0.3">HT200</text><text x="405.70" y="552.50" font-size="11.7" fill="#2db26c" text-anchor="middle" stroke="#2db26c" stroke-width="0.3">304</text><text x="365.6 377.1 388.6" y="575.6" font-size="11" font-weight="bold" fill="#111">氟橡胶</text><text x="407.00" y="575.98" font-size="11.3" fill="#2db26c" textLength="41.7" lengthAdjust="spacingAndGlyphs" stroke="#2db26c" stroke-width="0.25">Fluoro rubber</text><text x="376.1 386.7" y="597.7" font-size="11" font-weight="bold" fill="#111">四氟</text><text x="405.10" y="597.86" font-size="10.6" fill="#2db26c" textLength="25.9" lengthAdjust="spacingAndGlyphs" stroke="#2db26c" stroke-width="0.2">PTFE</text><text x="599.4" y="443.1" font-size="11" font-weight="bold" fill="#111">钛</text><text x="617.30" y="443.50" font-size="11.3" fill="#2db26c" textLength="24.9" lengthAdjust="spacingAndGlyphs" stroke="#2db26c" stroke-width="0.25">titanium</text><text x="622.15" y="464.18" font-size="11.7" fill="#111" text-anchor="middle" stroke="#111" stroke-width="0.3">304</text><text x="581.7 593.2 604.7" y="487.3" font-size="11" font-weight="bold" fill="#111">氟橡胶</text><text x="623.00" y="487.66" font-size="11.3" fill="#2db26c" textLength="41.7" lengthAdjust="spacingAndGlyphs" stroke="#2db26c" stroke-width="0.25">Fluoro rubber</text><text x="622.15" y="508.34" font-size="11.7" fill="#2db26c" text-anchor="middle" stroke="#2db26c" stroke-width="0.3">304</text><text x="622.15" y="530.42" font-size="11.7" fill="#2db26c" text-anchor="middle" stroke="#2db26c" stroke-width="0.3">304</text><text x="589.6 601.5 613.4" y="547.9" font-size="10" font-weight="bold" fill="#111">碳石墨</text><text x="624.80" y="548.20" font-size="9.3" fill="#111" textLength="18.8" lengthAdjust="spacingAndGlyphs" font-weight="bold">/45</text><text x="644.21" y="547.9" font-size="10" font-weight="bold" fill="#111">钢</text><text x="588.10" y="555.80" font-size="8.6" fill="#2db26c" textLength="68.8" lengthAdjust="spacingAndGlyphs">Carbon graphite / 45#</text><text x="133.20" y="29.30" font-size="19.5" fill="#fff" textLength="168.3" lengthAdjust="spacing" stroke="#fff" stroke-width="0.25">Structure drawing</text><text x="134.30" y="379.40" font-size="18.4" fill="#fff" textLength="128.8" lengthAdjust="spacing" stroke="#fff" stroke-width="0.25">Material list</text>
</svg>

</body></html>
